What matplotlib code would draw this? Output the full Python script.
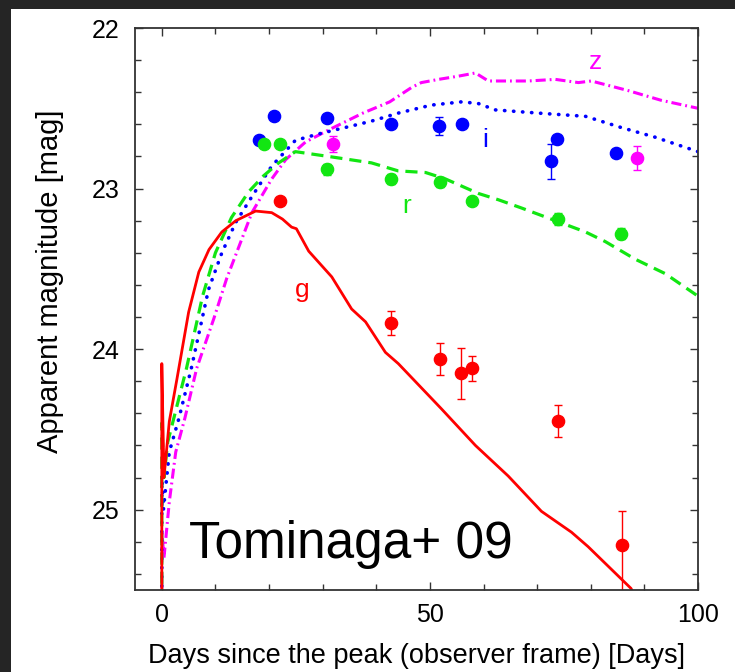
import numpy as np
import matplotlib
matplotlib.use("Agg")
from matplotlib import pyplot as plt
from matplotlib.patches import Rectangle

plt.rcParams['font.family'] = ['Liberation Sans', 'DejaVu Sans']

# model light curves (Tominaga+ 09), days vs apparent magnitude
g_days = [0, 0, 0.4, 1.4, 2.8, 5.0, 6.9, 8.8, 11.2, 13.8, 17.5, 20.5, 22.5, 24.2, 25.1,
          27.4, 31.7, 35.4, 38.0, 41.7, 44.1, 52.1, 58.5, 64.6, 70.8, 76.4, 79.5, 87.5, 90]
g_mag = [25.7, 24.09, 24.8, 24.45, 24.19, 23.77, 23.52, 23.38, 23.27, 23.20, 23.14, 23.15, 23.19,
         23.24, 23.25, 23.39, 23.55, 23.75, 23.83, 24.02, 24.09, 24.37, 24.60, 24.79, 25.01,
         25.14, 25.23, 25.49, 25.65]

r_days = [0, 0, 0.4, 1.1, 4.6, 7.6, 10, 13, 16.2, 19, 21.8, 24.9, 31.1, 39.1, 44.1, 49.2,
          52.9, 59, 62.8, 67, 72.6, 79, 82.7, 88.3, 93.9, 100]
r_mag = [25.7, 24.46, 24.8, 24.58, 24.12, 23.67, 23.40, 23.18, 23.02, 22.92, 22.84, 22.77,
         22.80, 22.84, 22.89, 22.90, 22.94, 23.03, 23.07, 23.12, 23.19, 23.27, 23.33, 23.44,
         23.53, 23.67]

i_days = [0, 0, 0.3, 1.4, 3.2, 5.5, 8.7, 11.2, 13.8, 16.8, 20.5, 24.9, 29.2, 35.4, 39.1, 44.1,
          50.3, 55.9, 59, 62.2, 70.2, 79, 85.7, 92, 100]
i_mag = [25.7, 24.79, 25.0, 24.64, 24.43, 24.12, 23.63, 23.40, 23.21, 23.05, 22.86, 22.70,
         22.66, 22.61, 22.58, 22.53, 22.48, 22.46, 22.47, 22.51, 22.53, 22.55, 22.62, 22.68, 22.77]

z_days = [0, 0, 0.4, 1.4, 2.6, 4.3, 6.5, 9.7, 12.1, 14.4, 16.8, 20.5, 23.1, 26.8, 31.4, 37.5,
          42.5, 46.6, 48.4, 51.6, 55.3, 58.5, 60.9, 68.3, 73.4, 77.7, 80.1, 87, 93.1, 100]
z_mag = [25.7, 25.13, 25.3, 24.95, 24.64, 24.43, 24.12, 23.81, 23.56, 23.36, 23.15, 22.94,
         22.82, 22.71, 22.63, 22.53, 22.46, 22.37, 22.34, 22.32, 22.30, 22.28, 22.33, 22.33,
         22.32, 22.34, 22.33, 22.39, 22.45, 22.50]

# observed photometry
g_obs_t = [22.0, 42.8, 51.8, 55.8, 57.9, 73.9, 85.8]
g_obs_m = [23.08, 23.84, 24.06, 24.15, 24.12, 24.45, 25.22]
g_obs_elo = [0.0, 0.075, 0.10, 0.16, 0.077, 0.10, 0.21]
g_obs_ehi = [0.0, 0.075, 0.10, 0.16, 0.077, 0.10, 0.40]

r_obs_t = [19.0, 22.0, 30.9, 42.8, 51.8, 57.9, 73.8, 85.7]
r_obs_m = [22.72, 22.72, 22.88, 22.94, 22.96, 23.08, 23.19, 23.28]
r_obs_e = [0.0, 0.0, 0.035, 0.03, 0.03, 0.0, 0.035, 0.035]

i_obs_t = [18.1, 20.9, 30.9, 42.8, 51.7, 55.9, 72.6, 73.7, 84.7]
i_obs_m = [22.70, 22.55, 22.56, 22.60, 22.61, 22.60, 22.83, 22.69, 22.78]
i_obs_e = [0.0, 0.0, 0.0, 0.0, 0.055, 0.0, 0.11, 0.0, 0.0]

z_obs_t = [32.0, 88.6]
z_obs_m = [22.72, 22.81]
z_obs_e = [0.05, 0.075]

RED = '#ff0000'
GREEN = '#12e612'
BLUE = '#0000ff'
MAG = '#ff00ff'

fig = plt.figure(figsize=(7.35, 6.72), dpi=100, facecolor='#252525')
fig.patches.append(Rectangle((11 / 735, 0), 1, 1 - 9 / 672, transform=fig.transFigure,
                             facecolor='white', edgecolor='none', zorder=-10))
ax = fig.add_axes([135 / 735, 1 - 590 / 672, 563 / 735, 562 / 672])
ax.set_facecolor('none')

ax.plot(z_days, z_mag, color=MAG, lw=2.2, linestyle=(0, (3.3, 1.3, 0.6, 1.3)))
ax.plot(i_days, i_mag, color=BLUE, lw=2.6, linestyle=(0, (0.1, 2.4)),
        dash_capstyle='round')
ax.plot(r_days, r_mag, color=GREEN, lw=2.3, linestyle=(0, (3.8, 2.2)))
ax.plot(g_days, g_mag, color=RED, lw=2.0)

mk = dict(fmt='o', ms=8.8, capsize=3.2, elinewidth=1.0, capthick=1.0)
ax.errorbar(z_obs_t, z_obs_m, yerr=z_obs_e, color=MAG, **mk)
ax.errorbar(i_obs_t, i_obs_m, yerr=i_obs_e, color=BLUE, **mk)
ax.errorbar(r_obs_t, r_obs_m, yerr=r_obs_e, color=GREEN, **mk)
ax.errorbar(g_obs_t, g_obs_m, yerr=[g_obs_elo, g_obs_ehi], color=RED, **mk)

ax.text(80.8, 22.21, 'z', color=MAG, fontsize=19, ha='center', va='center')
ax.text(60.3, 22.70, 'i', color=BLUE, fontsize=19, ha='center', va='center')
ax.text(45.6, 23.11, 'r', color=GREEN, fontsize=19, ha='center', va='center')
ax.text(26.1, 23.63, 'g', color=RED, fontsize=19, ha='center', va='center')
ax.text(5.0, 25.30, 'Tominaga+ 09', color='black', fontsize=37, ha='left', va='baseline')

ax.set_xlim(-5, 100)
ax.set_ylim(25.5, 22)
ax.set_xticks([0, 50, 100])
ax.set_xticks(np.arange(0, 100, 10), minor=True)
ax.set_yticks([22, 23, 24, 25])
ax.set_yticks(np.arange(22, 25.5, 0.2), minor=True)
ax.tick_params(which='both', direction='in', top=True, right=True, labelsize=18,
               color='#333333', width=1.0)
ax.tick_params(which='major', length=6)
ax.tick_params(which='minor', length=4.5)
ax.tick_params(axis='x', pad=9)
ax.tick_params(axis='y', pad=11)
for s in ax.spines.values():
    s.set_linewidth(1.3)
    s.set_color('#333333')

ax.set_xlabel('Days since the peak (observer frame) [Days]', fontsize=19.5)
ax.set_ylabel('Apparent magnitude [mag]', fontsize=21)
ax.xaxis.set_label_coords(0.5, -0.095)
ax.yaxis.set_label_coords(-0.126, 0.55)

fig.savefig('out.png', dpi=100, facecolor=fig.get_facecolor())
